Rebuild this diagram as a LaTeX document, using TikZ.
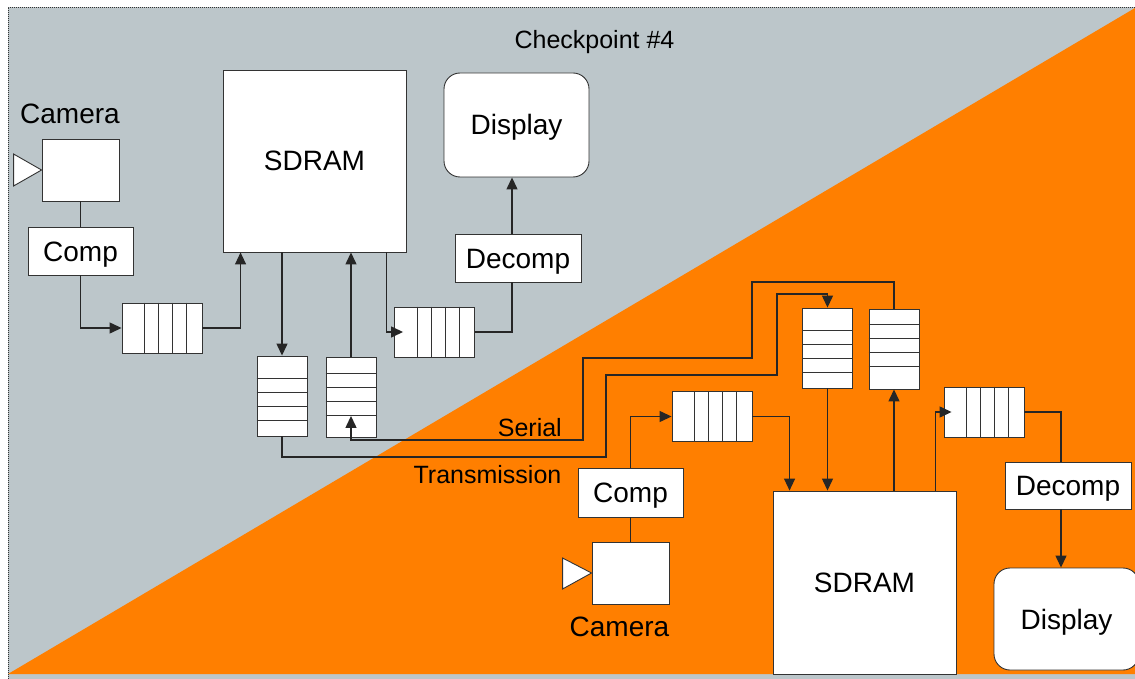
\documentclass[tikz,border=0pt]{standalone}
\usepackage{fontspec}
\setmainfont{Liberation Sans}
\usetikzlibrary{arrows.meta, calc}
\definecolor{slate}{HTML}{BCC6CA}
\definecolor{tangerine}{HTML}{FF7F00}
\definecolor{edge}{HTML}{333333}

\begin{document}
\begin{tikzpicture}[x=1pt, y=-1pt,
    unit/.style={draw=edge, fill=white, line width=0.9pt, inner sep=0pt,
                 font=\fontsize{28}{32}\selectfont, text height=20pt, text depth=0pt},
    fifoh/.style={unit, minimum width=80pt, minimum height=50pt},
    fifov/.style={unit, minimum width=50pt, minimum height=80pt},
    cell/.style={draw=edge, line width=0.9pt},
    lens/.style={draw=edge, fill=white, line width=0.9pt},
    wire/.style={draw=black!85, line width=1.3pt},
    flow/.style={wire, -{Triangle[length=12pt, width=11pt]}},
    caption/.style={inner sep=0pt, font=\fontsize{28}{32}\selectfont,
                    text height=20pt, text depth=0pt},
    note/.style={inner sep=0pt, font=\fontsize{25}{30}\selectfont,
                 text height=18pt, text depth=0pt}
  ]
  \useasboundingbox (0,0) rectangle (1135,679);

  % the two halves
  \fill[slate] (8,7) rectangle (1135,679);
  \fill[tangerine] (8,674) -- (1135,8) -- (1135,674) -- cycle;
  \draw[edge, line width=0.8pt, dash pattern=on 1pt off 1pt] (1135,7) -- (8,7) -- (8,679);

  \node[note] (title) at (594.5,40) {Checkpoint \#4};

  % sending board
  \node[unit, minimum width=77pt, minimum height=62pt] (cam1) at (80.5,170) {};
  \node[caption] (camlbl1) at (70,114) {Camera};
  \draw[lens] (cam1.west) -- ++(-28,-16) -- ++(0,32) -- cycle;
  \node[unit, minimum width=105pt, minimum height=48pt] (comp1) at (80.5,251) {Comp};
  \node[fifoh] (fifo1) at (162,328) {};
  \node[unit, minimum width=183pt, minimum height=182pt] (sdram1) at (314.5,161) {SDRAM};
  \node[fifov] (fifoA) at (282,396) {};
  \node[fifov] (fifoB) at (351,397.5) {};
  \node[fifoh] (fifoC) at (434.5,332) {};
  \node[unit, minimum width=126pt, minimum height=48pt] (decomp1) at (518,258) {Decomp};
  \node[unit, rounded corners=16pt, minimum width=145pt, minimum height=104pt] (disp1)
    at (516.5,125) {Display};

  % receiving board
  \node[fifov] (fifoD) at (827.5,348) {};
  \node[fifov] (fifoE) at (894,349) {};
  \node[fifoh] (fifoF) at (712,416.5) {};
  \node[unit, minimum width=105pt, minimum height=49pt] (comp2) at (630.5,492.5) {Comp};
  \node[unit, minimum width=77pt, minimum height=62pt] (cam2) at (630.5,573) {};
  \node[caption] (camlbl2) at (619.5,626) {Camera};
  \draw[lens] (cam2.west) -- ++(-29,-15) -- ++(0,31) -- cycle;
  \node[unit, minimum width=183pt, minimum height=183pt] (sdram2) at (864.5,582.5) {SDRAM};
  \node[fifoh] (fifoG) at (984,412) {};
  \node[unit, minimum width=126pt, minimum height=47pt] (decomp2) at (1068,485.5) {Decomp};
  \node[unit, rounded corners=16pt, minimum width=145pt, minimum height=102pt] (disp2)
    at (1066.5,619) {Display};

  \node[note, anchor=east] (serial) at (562,427.5) {Serial};
  \node[note] (trans) at (487.5,474) {Transmission};

  % fifo cells, wide cell on the input side
  \foreach \f in {fifo1,fifoC,fifoF,fifoG}
    \foreach \off in {23,37,51,65}
      \draw[cell] ([xshift=\off pt]\f.north west) -- ([xshift=\off pt]\f.south west);
  \foreach \f in {fifoA,fifoD}
    \foreach \off in {23,37,51,65}
      \draw[cell] ([yshift=-\off pt]\f.north west) -- ([yshift=-\off pt]\f.north east);
  \foreach \f in {fifoB,fifoE}
    \foreach \off in {23,37,51,65}
      \draw[cell] ([yshift=\off pt]\f.south west) -- ([yshift=\off pt]\f.south east);

  % sending paths
  \draw[wire] (cam1.south) -- (comp1.north);
  \draw[flow] (comp1.south) |- (fifo1.west);
  \draw[flow] (fifo1.east) -| ([xshift=18pt]sdram1.south west);
  \draw[flow] (fifoA.north |- sdram1.south) -- (fifoA.north);
  \draw[flow] (fifoB.north) -- (fifoB.north |- sdram1.south);
  \draw[flow] ([xshift=164pt]sdram1.south west) |- ([xshift=9pt]fifoC.west);
  \draw[wire] (fifoC.east) -| ([xshift=-6pt]decomp1.south);
  \draw[flow] ([xshift=-6pt]decomp1.north) -- ([xshift=-4.5pt]disp1.south);

  % receiving paths
  \draw[wire] (cam2.north) -- (comp2.south);
  \draw[flow] (comp2.north) |- (fifoF.west);
  \draw[flow] (fifoF.east) -| ([xshift=17pt]sdram2.north west);
  \draw[flow] (fifoD.south) -- (fifoD.south |- sdram2.north);
  \draw[flow] (fifoE.south |- sdram2.north) -- (fifoE.south);
  \draw[flow] ([xshift=163pt]sdram2.north west) |- ([xshift=8pt]fifoG.west);
  \draw[wire] (fifoG.east) -| ([xshift=-7pt]decomp2.north);
  \draw[flow] ([xshift=-7pt]decomp2.south) -- ([xshift=-5.5pt]disp2.north);

  % serial links between the boards
  \coordinate (fifoBin) at ([yshift=22pt]fifoB.south);
  \draw[flow] (fifoA.south) |- (606,457) -- (606,375) -- (777,375) -- (777,294) -| (fifoD.north);
  \draw[flow] (fifoE.north) |- (752,282) -- (752,358) -- (583,358) -- (583,440) -| (fifoBin);
\end{tikzpicture}
\end{document}
